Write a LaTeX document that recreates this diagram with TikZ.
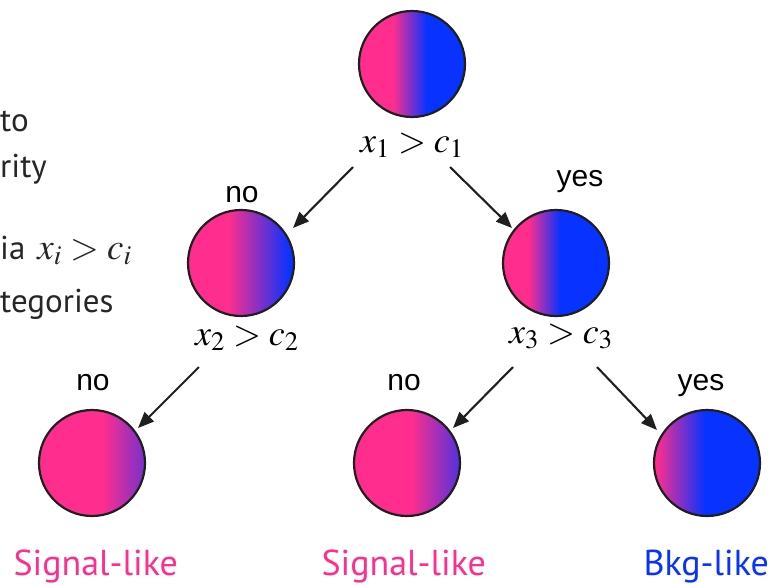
\documentclass[tikz,border=0pt]{standalone}
\usepackage{mathptmx}
\usepackage[no-math]{fontspec}
\setmainfont{PT Sans}
\newfontfamily\arialfont{Liberation Sans}
\usepackage{tikz}
\usetikzlibrary{arrows.meta}

\definecolor{sigpink}{RGB}{255,46,142}
\definecolor{bkgblue}{RGB}{8,50,255}
\definecolor{slidegray}{RGB}{38,38,38}

% shadings: the middle 50bp cover the circle
\pgfdeclarehorizontalshading{topmix}{100bp}{color(0bp)=(sigpink); color(41bp)=(sigpink); color(57bp)=(bkgblue); color(100bp)=(bkgblue)}
\pgfdeclarehorizontalshading{leftmix}{100bp}{color(0bp)=(sigpink); color(44bp)=(sigpink); color(73bp)=(bkgblue); color(100bp)=(bkgblue)}
\pgfdeclarehorizontalshading{rightmix}{100bp}{color(0bp)=(sigpink); color(37bp)=(sigpink); color(52bp)=(bkgblue); color(100bp)=(bkgblue)}
\pgfdeclarehorizontalshading{sigA}{100bp}{color(0bp)=(sigpink); color(55bp)=(sigpink); color(75bp)=(bkgblue!55!sigpink); color(100bp)=(bkgblue!55!sigpink)}
\pgfdeclarehorizontalshading{sigB}{100bp}{color(0bp)=(sigpink); color(52bp)=(sigpink); color(75bp)=(bkgblue!70!sigpink); color(100bp)=(bkgblue!70!sigpink)}
\pgfdeclarehorizontalshading{bkgA}{100bp}{color(0bp)=(sigpink); color(26bp)=(sigpink); color(49bp)=(bkgblue); color(100bp)=(bkgblue)}

\tikzset{
  blob/.style={circle, draw=black!88, line width=2.2pt, minimum size=106pt, inner sep=0pt, shade},
  cut/.style={anchor=base, font=\fontsize{36}{40}\selectfont},
  answer/.style={anchor=base, font=\arialfont\fontsize{30}{34}\selectfont},
  verdict/.style={anchor=base west, font=\fontsize{36}{40}\selectfont},
  slide/.style={anchor=base west, text=slidegray, inner sep=0pt, font=\fontsize{33}{38}\selectfont},
  arr/.style={-{Triangle[length=16pt,width=13pt]}, line width=2.1pt, black!88}
}

\begin{document}
\begin{tikzpicture}[x=1pt, y=-1pt]
  \useasboundingbox (0,0) rectangle (768,584);

  % leftover text of the slide
  \node[slide] (t1) at (0,131) {to};
  \node[slide] (t2) at (0,177) {rity};
  \node[slide] (t3) at (0,259) {ia\hspace{12pt}{\fontsize{37}{40}\selectfont$x_i > c_i$}};
  \node[slide] (t4) at (0,312) {tegories};

  % tree
  \node[blob, shading=topmix] (n1) at (412,64) {};
  \node[blob, shading=leftmix] (n2) at (241,263) {};
  \node[blob, shading=rightmix] (n3) at (556,263) {};
  \node[blob, shading=sigA] (l1) at (92,463) {};
  \node[blob, shading=sigB] (l2) at (407,463) {};
  \node[blob, shading=bkgA] (l3) at (707,463) {};

  \node[cut] (q1) at (412,152) {$x_1 > c_1$};
  \node[cut] (q2) at (247,345) {$x_2 > c_2$};
  \node[cut] (q3) at (561,343) {$x_3 > c_3$};

  \node[answer] (a2) at (242,202) {no};
  \node[answer] (a3) at (580,186) {yes};
  \node[answer] (a4) at (93,390) {no};
  \node[answer] (a5) at (404,390) {no};
  \node[answer] (a6) at (701,390) {yes};

  \draw[arr] ([shift={(-59,103)}]n1.center) -- ([shift={(52,-35)}]n2.center);
  \draw[arr] ([shift={(38,103)}]n1.center) -- ([shift={(-44,-35)}]n3.center);
  \draw[arr] ([shift={(-42,104)}]n2.center) -- ([shift={(46,-35)}]l1.center);
  \draw[arr] ([shift={(-43,104)}]n3.center) -- ([shift={(46,-35)}]l2.center);
  \draw[arr] ([shift={(41,104)}]n3.center) -- ([shift={(-50,-33)}]l3.center);

  \node[verdict, text=sigpink] (v1) at (10,575) {Signal-like};
  \node[verdict, text=sigpink] (v2) at (318,575) {Signal-like};
  \node[verdict, text=bkgblue] (v3) at (640,575) {Bkg-like};
\end{tikzpicture}
\end{document}
